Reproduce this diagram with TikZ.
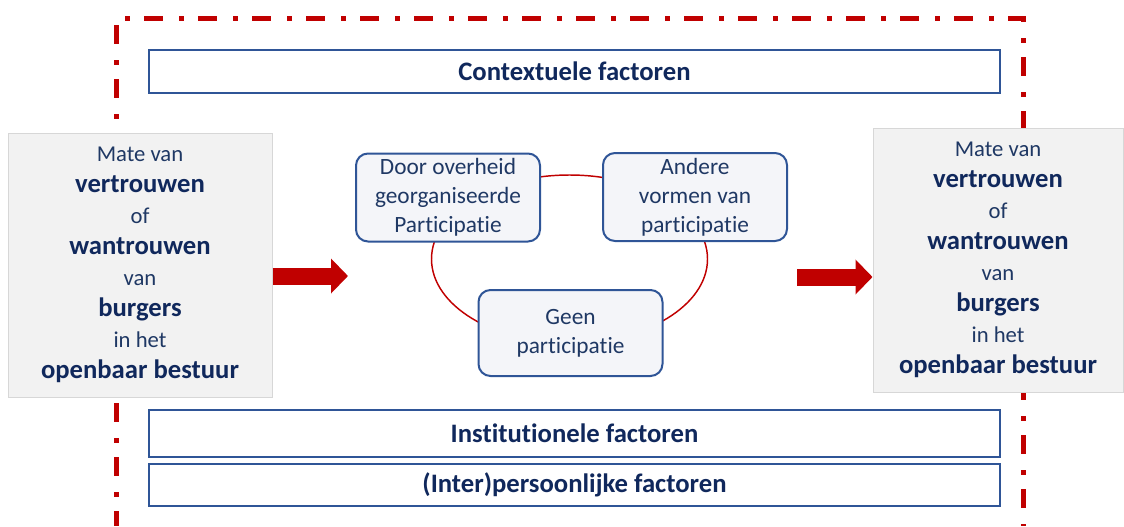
\documentclass[tikz,border=0pt]{standalone}
\usepackage{fontspec}
\setmainfont{Carlito}[Ligatures=NoCommon]
\usepackage{tikz}
\usetikzlibrary{arrows.meta}
\definecolor{donkerblauw}{RGB}{31,56,100}
\definecolor{nachtblauw}{RGB}{16,40,92}
\definecolor{kaderblauw}{RGB}{47,85,151}
\definecolor{donkerrood}{RGB}{192,0,0}
\definecolor{lichtgrijs}{RGB}{242,242,242}
\definecolor{randgrijs}{RGB}{215,215,215}
\definecolor{vulling}{RGB}{244,245,249}

\newcommand{\dik}[1]{{\fontsize{20}{23.25}\selectfont\bfseries\color{nachtblauw}#1}}

\begin{document}
\begin{tikzpicture}[x=0.75pt, y=-0.75pt,
        kader/.style={donkerrood, line width=3.75pt, dash pattern=on 14.25pt off 12pt on 3.75pt off 10.5pt},
        factor/.style={draw=kaderblauw, line width=1.5pt, fill=white, inner sep=0pt, minimum width=638pt, text=nachtblauw, font=\fontsize{20}{24}\selectfont\bfseries},
        mate/.style={fill=lichtgrijs, draw=randgrijs, line width=0.75pt, inner sep=0pt, minimum height=198pt, align=center, text=donkerblauw, font=\fontsize{17}{23.25}\selectfont},
        vorm/.style={draw=kaderblauw, line width=1.5pt, fill=vulling, rounded corners=9pt, inner sep=0pt, minimum width=138pt, minimum height=66pt, align=center, text=donkerblauw, font=\fontsize{17.5}{21.75}\selectfont},
        blokpijl/.style={donkerrood, line width=12.75pt, -{Triangle[width=25.5pt,length=12.75pt]}}]
        \useasboundingbox (0,0) rectangle (1124,526);

        % Kader (streep-punt)
        \draw[kader] (116,25) -- (116,526);
        \draw[kader, dash phase=26.25pt] (125,18) -- (1023,18) -- (1023,526);

        % Factoren
        \node[factor, minimum height=32.25pt] (context) at (574.5,71.5) {Contextuele factoren};
        \node[factor, minimum height=35.25pt] (instit) at (574.5,433.5) {Institutionele factoren};
        \node[factor, minimum height=31.5pt] (persoon) at (574.5,485) {(Inter)persoonlijke factoren};

        % Mate van vertrouwen, links en rechts
        \node[mate, minimum width=198pt] (links) at (140,265) {Mate van\\ \dik{vertrouwen}\\ of\\ \dik{wantrouwen}\\ van\\ \dik{burgers}\\ in het\\ \dik{openbaar bestuur}};
        \node[mate, minimum width=187.5pt] (rechts) at (998,260) {Mate van\\ \dik{vertrouwen}\\ of\\ \dik{wantrouwen}\\ van\\ \dik{burgers}\\ in het\\ \dik{openbaar bestuur}};

        % Cirkel van participatievormen
        \draw[donkerrood, line width=1.1pt] (569.5,259) ellipse [x radius=103.5pt, y radius=63pt];
        \node[vorm] (overheid) at (448,197.5) {Door overheid\\ georganiseerde\\ Participatie};
        \node[vorm] (andere) at (695,197) {Andere\\ vormen van\\ participatie};
        \node[vorm, minimum height=64.5pt] (geen) at (570.5,333) {Geen\\ participatie};

        % Pijlen
        \coordinate (pijlpunt) at (348,276);
        \coordinate (pijlstart) at (797,277);
        \draw[blokpijl] (links.east |- pijlpunt) -- (pijlpunt);
        \draw[blokpijl] (pijlstart) -- (rechts.west |- pijlstart);
    \end{tikzpicture}
\end{document}
